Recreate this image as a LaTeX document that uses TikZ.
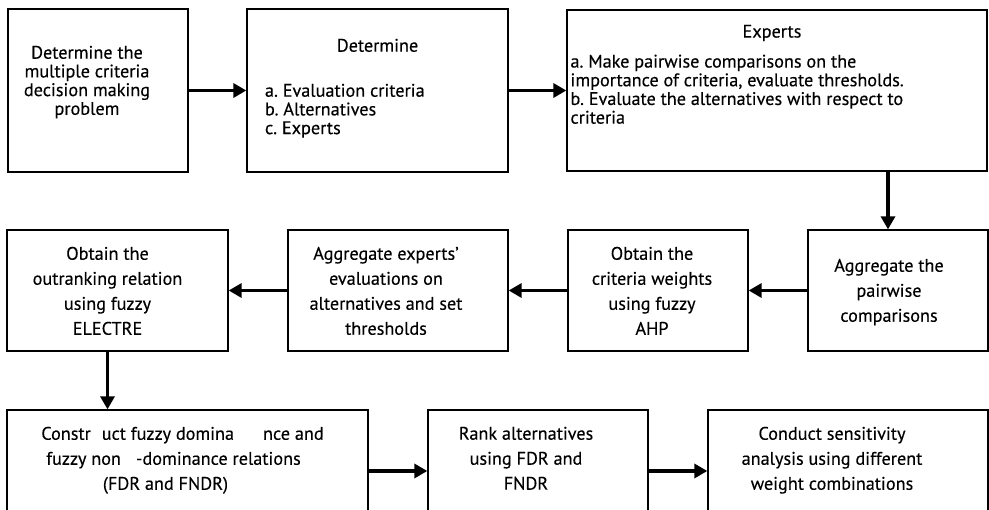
\documentclass[tikz,border=0pt]{standalone}
\usepackage{fontspec}
\setmainfont[FakeBold=0.3]{PT Sans}
\usepackage{tikz}
\usetikzlibrary{arrows.meta}
\frenchspacing

\newcommand{\boxbody}[4]{%
  \begin{minipage}[c][#2pt][t]{#1pt}\vspace*{#3pt}#4\end{minipage}}
\newcommand{\midtext}[1]{\centering\advance\rightskip by #1pt\relax}

\tikzset{
  stage/.style={draw, line width=1.3pt, inner sep=0pt},
  toprow/.style={font=\fontsize{18.2}{18.7}\selectfont},
  lowrow/.style={font=\fontsize{18.2}{25}\selectfont},
  flow/.style={line width=3.8pt, -{Triangle[length=13pt,width=14pt]}}
}

\begin{document}
\begin{tikzpicture}[x=1pt,y=-1pt]
  \useasboundingbox (0,0) rectangle (989,510);
  % first row
  \node[stage,toprow] (problem) at (98,90.5)
    {\boxbody{180}{163}{36.8}{\midtext{22}Determine the\\ multiple criteria\\ decision making\\ problem}};
  \node[stage,toprow] (determine) at (377.5,90.5)
    {\boxbody{261}{163}{29.8}{\centering Determine\par\vspace{26.3pt}%
      \raggedright\leftskip=18pt a. Evaluation criteria\\ b. Alternatives\\ c. Experts}};
  \node[stage,toprow] (experts) at (777,90.5)
    {\boxbody{420}{161}{14.8}{\midtext{10}Experts\par\vspace{11.3pt}%
      \raggedright\leftskip=3.5pt a. Make pairwise comparisons on the\\
      importance of criteria, evaluate thresholds.\\
      b. Evaluate the alternatives with respect to\\ criteria}};
  % second row
  \node[stage,lowrow] (outrank) at (117.5,290.5)
    {\boxbody{221}{121}{16.8}{\midtext{20}Obtain the\\ outranking relation\\ using fuzzy\\ ELECTRE}};
  \node[stage,lowrow] (aggexp) at (398,290.5)
    {\boxbody{220}{121}{16.8}{\midtext{24}Aggregate experts'\\ evaluations on\\ alternatives and set\\ thresholds}};
  \node[stage,lowrow] (weights) at (658,290.5)
    {\boxbody{180}{121}{16.8}{\midtext{12}Obtain the\\ criteria weights\\ using fuzzy\\ AHP}};
  \node[stage,lowrow] (aggpair) at (898,290.5)
    {\boxbody{180}{121}{28.8}{\midtext{18}Aggregate the\\ pairwise\\ comparisons}};
  % third row
  \node[stage,lowrow] (construct) at (187.5,461)
    {\boxbody{361}{102}{16.8}{\midtext{28}\hspace*{18pt}Constr\hspace{11pt}uct fuzzy domina\hspace{29pt}nce and\\
      fuzzy non\hspace{15pt}-dominance relations\\ (FDR and FNDR)\hspace*{16pt}\mbox{}}};
  \node[stage,lowrow] (rank) at (538,461)
    {\boxbody{220}{102}{16.8}{\midtext{24}Rank alternatives\\ using FDR and\\ FNDR}};
  \node[stage,lowrow] (conduct) at (848,461)
    {\boxbody{280}{102}{16.8}{\midtext{32}Conduct sensitivity\\ analysis using different\\ weight combinations}};

  \coordinate (drop) at ([xshift=-10pt]aggpair.north);
  \coordinate (down) at ([xshift=-10pt]outrank.south);

  \draw[flow] (problem.east) -- (determine.west);
  \draw[flow] (determine.east) -- (experts.west);
  \draw[flow] (drop |- experts.south) -- (drop);
  \draw[flow] (aggpair.west) -- (weights.east);
  \draw[flow] (weights.west) -- (aggexp.east);
  \draw[flow] (aggexp.west) -- (outrank.east);
  \draw[flow] (down) -- (down |- construct.north);
  \draw[flow] ([yshift=-10pt]construct.east) -- ([yshift=-10pt]rank.west);
  \draw[flow] ([yshift=-10pt]rank.east) -- ([yshift=-10pt]conduct.west);
\end{tikzpicture}
\end{document}
